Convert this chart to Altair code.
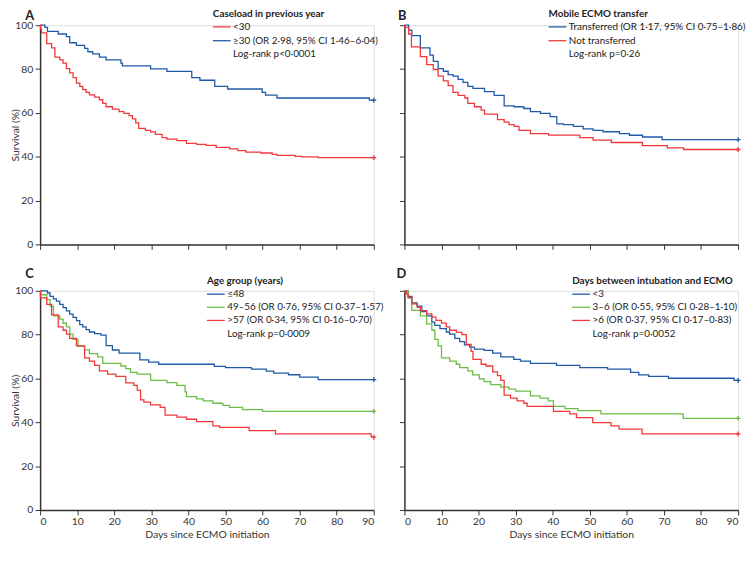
import altair as alt
import pandas as pd

FONT = "Lato"
BLUE = "#1f5aa6"
RED = "#f0393b"
GREEN = "#6cbd45"
AXIS = "#333333"
TXT = "#222222"

# ---------------- Panel A: caseload ----------------
a_low_days = [0, 0.1, 0.4, 1.8, 3.1, 4.0, 5.3, 6.2, 7.1, 8.0, 8.9, 9.8, 10.7, 11.5, 12.4, 13.3, 14.7, 16.0,
              16.9, 17.8, 19.5, 21.3, 22.6, 24.0, 24.9, 25.8, 26.6, 28.4, 29.8, 31.1, 32.9, 34.2, 36.9, 39.5,
              42.2, 44.8, 47.5, 51.1, 53.3, 55.5, 59.5, 62.6, 63.9, 68.8, 70.6, 75.0, 90]
a_low_surv = [100, 98.2, 96.5, 91.6, 89.7, 85.4, 84.2, 82.7, 80.2, 78.3, 76.1, 73.6, 72.1, 70.6, 69.4, 68.2,
              67.2, 66.0, 64.3, 62.8, 61.7, 60.6, 59.8, 58.8, 57.3, 55.4, 52.9, 52.0, 51.3, 50.2, 48.7, 48.0,
              47.3, 46.1, 45.6, 45.2, 44.3, 43.6, 42.8, 42.1, 41.7, 41.1, 40.6, 40.2, 39.9, 39.6, 39.6]
a_high_days = [0, 1.3, 2.0, 4.9, 7.1, 8.0, 9.8, 12.0, 12.9, 14.2, 16.0, 17.8, 21.8, 22.2, 29.8, 34.2, 40.9,
               43.1, 47.1, 50.6, 59.9, 60.8, 63.9, 88.8, 90]
a_high_surv = [100, 99.0, 97.2, 96.0, 94.8, 92.0, 90.8, 89.4, 87.9, 86.9, 85.4, 84.2, 82.7, 81.5, 80.1, 78.9,
               76.1, 74.9, 72.1, 70.9, 69.4, 68.1, 66.8, 65.8, 65.8]

# ---------------- Panel B: mobile ECMO transfer ----------------
b_tr_days = [0, 1.15, 2.0, 4.3, 6.9, 7.8, 9.1, 10.5, 11.8, 13.1, 14.5, 15.8, 17.1, 18.5, 21.6, 24.2, 26.9,
             29.6, 32.2, 34.0, 36.7, 39.3, 41.1, 42.9, 45.6, 48.2, 50.9, 53.6, 58.0, 60.7, 64.2, 69.5, 90]
b_tr_surv = [100, 97.8, 95.3, 89.7, 86.4, 83.5, 80.2, 79.0, 77.5, 76.8, 75.3, 73.9, 72.1, 71.2, 69.7, 68.0,
             63.2, 62.8, 62.0, 60.6, 59.8, 58.3, 55.0, 54.6, 53.9, 52.7, 52.0, 51.4, 50.5, 49.8, 49.0, 47.8, 47.8]
b_not_days = [0, 0.1, 1.15, 1.9, 4.3, 6.0, 7.8, 9.1, 10.5, 11.8, 13.1, 14.5, 16.3, 17.1, 18.9, 20.7, 21.6,
              25.1, 26.9, 28.2, 29.6, 30.9, 34.0, 38.9, 47.3, 50.9, 55.8, 64.2, 70.9, 75.3, 90]
b_not_surv = [100, 99.0, 96.0, 90.1, 85.7, 82.0, 79.8, 76.8, 74.6, 72.4, 69.4, 68.0, 66.8, 64.3, 62.8, 61.3,
              59.4, 56.9, 55.8, 54.6, 53.9, 52.0, 50.5, 49.9, 48.7, 47.6, 46.5, 45.1, 44.0, 43.3, 43.3]

# ---------------- Panel C: age group ----------------
c_young_days = [0, 2.0, 2.7, 3.6, 4.4, 5.3, 6.2, 7.1, 8.0, 8.9, 9.8, 10.7, 11.5, 12.4, 13.3, 14.7, 16.4, 17.8,
                19.5, 21.3, 26.9, 29.3, 32.0, 47.0, 50.0, 57.0, 61.0, 63.0, 67.0, 70.0, 75.0, 90]
c_young_surv = [100, 99.0, 97.5, 96.3, 95.3, 93.8, 92.3, 90.8, 89.4, 87.9, 86.4, 84.6, 83.5, 82.3, 81.2, 80.5,
                79.8, 75.0, 73.0, 71.6, 68.5, 67.5, 66.5, 65.5, 65.0, 64.3, 63.4, 62.4, 61.7, 60.6, 59.5, 59.5]
c_mid_days = [0, 0.1, 1.8, 2.7, 3.6, 5.3, 6.2, 7.1, 8.0, 8.9, 10.2, 12.0, 13.3, 15.5, 16.9, 21.8, 23.1, 24.4,
              26.2, 29.8, 34.2, 36.9, 39.1, 39.5, 42.2, 44.0, 46.6, 49.3, 51.1, 54.6, 60.0, 90]
c_mid_surv = [100, 98.2, 96.0, 93.0, 88.6, 87.1, 85.2, 83.5, 80.2, 77.8, 74.6, 73.1, 71.3, 69.9, 66.9, 65.7,
              64.5, 62.8, 62.0, 59.1, 58.1, 56.9, 53.9, 51.7, 50.7, 49.8, 48.7, 47.7, 46.8, 45.8, 45.0, 45.0]
c_old_days = [0, 0.1, 1.8, 3.1, 4.9, 6.2, 7.1, 8.0, 9.8, 12.0, 13.3, 14.7, 16.0, 18.2, 20.4, 23.1, 25.3, 26.2,
              27.1, 28.0, 29.8, 32.4, 33.7, 36.9, 39.5, 42.2, 46.6, 48.4, 56.4, 63.5, 89.3, 90]
c_old_surv = [100, 96.8, 93.8, 89.0, 83.5, 82.0, 80.2, 78.3, 74.9, 69.4, 67.9, 66.0, 63.5, 62.0, 61.0, 58.0,
              56.9, 54.7, 50.2, 49.2, 48.0, 46.8, 43.3, 42.4, 41.4, 40.3, 38.4, 37.7, 36.2, 34.7, 33.2, 33.2]

# ---------------- Panel D: days between intubation and ECMO ----------------
d_short_days = [0, 1.0, 2.0, 3.4, 4.7, 6.0, 7.4, 8.2, 9.6, 11.3, 12.2, 13.6, 14.9, 16.2, 17.6, 18.9, 21.5,
                23.8, 26.0, 29.5, 31.3, 34.0, 41.0, 47.3, 54.8, 61.0, 63.2, 65.9, 71.2, 88.9, 90]
d_short_surv = [100, 97.5, 94.5, 93.0, 90.5, 88.6, 85.7, 84.2, 82.7, 81.2, 80.2, 78.3, 76.8, 75.3, 74.3, 73.4,
                72.8, 71.6, 69.9, 68.7, 67.9, 66.9, 66.0, 65.0, 64.3, 62.8, 61.6, 61.0, 60.1, 59.1, 59.1]
d_mid_days = [0, 1.0, 2.0, 4.3, 6.0, 7.4, 8.2, 9.1, 10.0, 12.2, 14.0, 14.9, 17.1, 18.4, 20.2, 21.5, 23.3, 26.0,
              28.2, 30.0, 34.0, 36.6, 38.8, 40.2, 43.3, 46.8, 53.0, 75.2, 90]
d_mid_surv = [100, 96.7, 91.1, 88.6, 84.9, 82.0, 77.8, 74.9, 69.4, 67.9, 66.5, 65.0, 63.5, 61.6, 59.8, 58.6,
              57.2, 56.1, 55.1, 54.2, 52.1, 51.0, 49.8, 47.3, 46.2, 45.3, 43.9, 41.8, 41.8]
d_long_days = [0, 0.5, 1.0, 2.0, 3.5, 4.3, 6.0, 7.4, 8.5, 10.0, 11.3, 12.2, 14.0, 15.5, 16.7, 18.0, 18.5,
               20.7, 22.0, 23.8, 25.1, 26.0, 26.9, 28.6, 30.4, 32.2, 33.1, 40.2, 44.6, 46.4, 50.8, 55.7, 57.9,
               64.1, 90]
d_long_surv = [100, 98.5, 97.0, 94.0, 92.5, 91.0, 89.5, 88.0, 86.5, 85.3, 83.5, 82.0, 81.0, 80.0, 75.5, 72.4,
               68.7, 66.5, 65.7, 63.0, 61.3, 59.1, 52.4, 51.0, 49.8, 48.7, 47.3, 45.0, 43.9, 42.1, 39.9, 38.4,
               36.9, 34.7, 34.7]

# ---------------- Text ----------------
panel_letters = ["A", "B", "C", "D"]
legend_titles = ["Caseload in previous year", "Mobile ECMO transfer", "Age group (years)",
                 "Days between intubation and ECMO"]
legend_labels = [
    ["<30", "≥30 (OR 2·98, 95% CI 1·46–6·04)"],
    ["Transferred (OR 1·17, 95% CI 0·75–1·86)", "Not transferred"],
    ["≤48", "49–56 (OR 0·76, 95% CI 0·37–1·57)", ">57 (OR 0·34, 95% CI 0·16–0·70)"],
    ["<3", "3–6 (OR 0·55, 95% CI 0·28–1·10)", ">6 (OR 0·37, 95% CI 0·17–0·83)"],
]
logrank_texts = ["Log-rank p<0·0001", "Log-rank p=0·26", "Log-rank p=0·0009", "Log-rank p=0·0052"]
x_title = "Days since ECMO initiation"
y_title = "Survival (%)"
x_ticks = [0, 10, 20, 30, 40, 50, 60, 70, 80, 90]
y_ticks = [0, 20, 40, 60, 80, 100]

W, H = 338, 222


def make_panel(series, idx, show_x, show_y, lay):
    common = dict(grid=False, tickSize=5, tickColor=AXIS, domainColor=AXIS, domainWidth=1.5, tickWidth=1,
                  labelFont=FONT, labelFontSize=10.5, labelColor=AXIS, titleFont=FONT, titleFontSize=10.5,
                  titleFontWeight="normal", titleColor=AXIS)
    xa = dict(values=x_ticks, labels=show_x, labelPadding=2, titlePadding=2, **common)
    ya = dict(values=y_ticks, labels=show_y, labelPadding=2.5, titleX=-20, titleY=H / 2, **common)
    xenc = alt.X("day:Q", scale=alt.Scale(domain=[0, 90], nice=False), axis=alt.Axis(**xa),
                 title=x_title if show_x else None)
    yenc = alt.Y("surv:Q", scale=alt.Scale(domain=[0, 100], nice=False), axis=alt.Axis(**ya),
                 title=y_title if show_y else None)

    layers = []
    for days, surv, color in series:
        df = pd.DataFrame({"day": days, "surv": surv})
        layers.append(alt.Chart(df).mark_line(interpolate="step-after", color=color, strokeWidth=1.3)
                      .encode(x=xenc, y=yenc))
        layers.append(alt.Chart(df.tail(1)).mark_point(shape="M0,-1L0,1M-1,0L1,0", filled=False, color=color,
                                                        size=25, strokeWidth=1.3, opacity=1)
                      .encode(x=xenc, y=yenc))

    layers.append(alt.Chart(pd.DataFrame({"t": [panel_letters[idx]]}))
                  .mark_text(align="left", baseline="middle", font=FONT, fontSize=13, fontWeight="bold", color=TXT)
                  .encode(text="t:N", x=alt.value(lay["lx"]), y=alt.value(lay["ly"])))
    layers.append(alt.Chart(pd.DataFrame({"t": [legend_titles[idx]]}))
                  .mark_text(align="left", baseline="middle", font=FONT, fontSize=10, fontWeight="bold",
                             color=TXT)
                  .encode(text="t:N", x=alt.value(lay["tx"]), y=alt.value(lay["ty"])))
    colors = lay["colors"]
    for i, lab in enumerate(legend_labels[idx]):
        yy = lay["ey"][i]
        layers.append(alt.Chart(pd.DataFrame({"t": [lab]}))
                      .mark_rule(color=colors[i], strokeWidth=1.3)
                      .encode(x=alt.value(lay["tx"]), x2=alt.value(lay["tx"] + 18), y=alt.value(yy)))
        layers.append(alt.Chart(pd.DataFrame({"t": [lab]}))
                      .mark_text(align="left", baseline="middle", font=FONT, fontSize=10, color=TXT)
                      .encode(text="t:N", x=alt.value(lay["tx"] + 20.5), y=alt.value(yy)))
    layers.append(alt.Chart(pd.DataFrame({"t": [logrank_texts[idx]]}))
                  .mark_text(align="left", baseline="middle", font=FONT, fontSize=10, color=TXT)
                  .encode(text="t:N", x=alt.value(lay["tx"] + 20.5), y=alt.value(lay["lr"])))
    return alt.layer(*layers).properties(width=W, height=H)


pA = make_panel([(a_high_days, a_high_surv, BLUE), (a_low_days, a_low_surv, RED)], 0, False, True,
                dict(lx=-15, ly=-9, tx=175, ty=-11, ey=[1.7, 15.7], lr=28.7, colors=[RED, BLUE]))
pB = make_panel([(b_tr_days, b_tr_surv, BLUE), (b_not_days, b_not_surv, RED)], 1, False, False,
                dict(lx=-6.5, ly=-9, tx=146, ty=-11, ey=[1.7, 15.7], lr=28.7, colors=[BLUE, RED]))
pC = make_panel([(c_young_days, c_young_surv, BLUE), (c_mid_days, c_mid_surv, GREEN),
                 (c_old_days, c_old_surv, RED)], 2, True, True,
                dict(lx=-15, ly=-17, tx=169, ty=-9.5, ey=[3.4, 16.7, 30.0], lr=44.0, colors=[BLUE, GREEN, RED]))
pD = make_panel([(d_short_days, d_short_surv, BLUE), (d_mid_days, d_mid_surv, GREEN),
                 (d_long_days, d_long_surv, RED)], 3, True, False,
                dict(lx=-8, ly=-17, tx=170, ty=-9.5, ey=[3.4, 16.7, 30.0], lr=44.0, colors=[BLUE, GREEN, RED]))

chart = (alt.concat(pA, pB, pC, pD, columns=2, spacing={"row": 47, "column": 31}, bounds="flush")
         .properties(padding={"left": 1.5, "top": -3, "right": 0, "bottom": 0})
         .configure_view(strokeWidth=0)
         .configure(background="white"))

chart.save("out.html", embed_options={"renderer": "svg", "actions": False})
